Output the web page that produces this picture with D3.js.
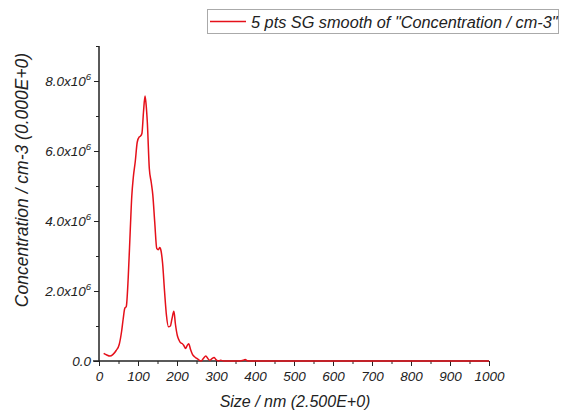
<!DOCTYPE html>
<html lang="en">
<head>
	<meta charset="UTF-8">
	<title>concentration vs size</title>
	<script src="https://cdn.jsdelivr.net/npm/d3@7"></script>
	<style>
		body { margin: 0; background: #fff; }
		text { font-family: "Liberation Sans", Arial, sans-serif; font-style: italic; fill: #222; }
	</style>
</head>
<body>
	<script>

		// size in nm, concentration in units of 1e6 / cm3
		var sizes = [12, 20, 28, 36, 44, 52, 58, 62, 66, 70, 75, 80, 84, 88, 93, 98, 103, 106, 110, 114,
			118, 121, 124, 129, 134, 138, 143, 148, 152, 156, 159, 163, 168, 173, 178, 183, 187, 192, 196,
			201, 205, 209, 213, 217, 222, 226, 230, 235, 240, 245, 250, 255, 262, 268, 274, 279, 284, 289,
			295, 300, 306, 312, 320, 340, 360, 370, 375, 380, 390, 420, 500, 600, 700, 800, 900, 1000];
		var conc = [0.22, 0.17, 0.14, 0.19, 0.30, 0.48, 0.85, 1.20, 1.50, 1.56, 2.40, 3.70, 4.70, 5.25, 5.70, 6.25, 6.40, 6.42, 6.50, 7.10,
			7.57, 7.30, 6.80, 5.50, 5.10, 4.74, 3.95, 3.22, 3.18, 3.24, 3.15, 2.80, 2.00, 1.30, 0.98, 1.00, 1.20, 1.42, 1.05,
			0.72, 0.60, 0.52, 0.50, 0.45, 0.36, 0.44, 0.49, 0.32, 0.18, 0.12, 0.08, 0.04, 0.00, 0.08, 0.14, 0.07, 0.02, 0.06,
			0.10, 0.04, 0.00, 0.02, 0.00, 0.00, 0.00, 0.02, 0.04, 0.01, 0.00, 0.00, 0.00, 0.00, 0.00, 0.00, 0.00, 0.00];

		var xTicks = [0, 100, 200, 300, 400, 500, 600, 700, 800, 900, 1000];
		var xMinor = [50, 150, 250, 350, 450, 550, 650, 750, 850, 950];
		var yTicks = [0, 2, 4, 6, 8];
		var yMinor = [1, 3, 5, 7, 9];
		var legendLabel = '5 pts SG smooth of "Concentration / cm-3"';
		var xTitle = 'Size / nm (2.500E+0)';
		var yTitle = 'Concentration / cm-3 (0.000E+0)';

		var svg = d3.select("body").append("svg").attr("width", 562).attr("height", 412);

		var x = d3.scaleLinear().domain([0, 1000]).range([99, 489]);
		var y = d3.scaleLinear().domain([0, 9]).range([361, 46]);

		// x axis
		var gx = svg.append("g").attr("transform", "translate(0," + y(0) + ")");
		gx.call(d3.axisBottom(x).tickValues(xTicks).tickSize(5).tickFormat(d3.format("d")));
		gx.append("g").call(d3.axisBottom(x).tickValues(xMinor).tickSize(3).tickFormat(""));
		gx.selectAll(".domain").attr("d", "M93,0H489");
		gx.selectAll("text").attr("font-size", 13.5).attr("font-family", null).attr("dy", "0.85em").attr("y", 9);

		// y axis
		var gy = svg.append("g").attr("transform", "translate(" + x(0) + ",0)");
		gy.call(d3.axisLeft(y).tickValues(yTicks).tickSize(5).tickFormat(""));
		gy.append("g").call(d3.axisLeft(y).tickValues(yMinor).tickSize(3).tickFormat(""));
		gy.selectAll(".domain").attr("d", "M0," + y(0) + "V" + y(9));
		svg.selectAll("path.domain, .tick line").attr("stroke", "#222");

		var labels = svg.append("g").selectAll("text").data(yTicks).enter().append("text")
			.attr("x", 91).attr("y", d => y(d) + 5)
			.attr("text-anchor", "end").attr("font-size", 13.5);
		labels.each(function (d) {
			var t = d3.select(this);
			if (d == 0) {
				t.text("0.0");
			} else {
				t.append("tspan").text(d.toFixed(1) + "x10");
				t.append("tspan").attr("font-size", 9.5).attr("dy", -6).text("6");
			}
		});

		// titles
		svg.append("text").attr("x", 295).attr("y", 407).attr("text-anchor", "middle")
			.attr("font-size", 16).text(xTitle);
		svg.append("text").attr("transform", "translate(28,180) rotate(-90)").attr("text-anchor", "middle")
			.attr("font-size", 17.5).text(yTitle);

		// curve
		var line = d3.line().x(d => x(d[0])).y(d => y(d[1])).curve(d3.curveMonotoneX);
		svg.append("path").datum(d3.zip(sizes, conc))
			.attr("d", line).attr("fill", "none").attr("stroke", "#e5101a").attr("stroke-width", 1.5);

		// legend
		var lg = svg.append("g");
		lg.append("rect").attr("x", 207.5).attr("y", 9.5).attr("width", 351).attr("height", 24)
			.attr("fill", "#fff").attr("stroke", "#aaa");
		lg.append("line").attr("x1", 210).attr("x2", 246).attr("y1", 21.5).attr("y2", 21.5)
			.attr("stroke", "#e5101a").attr("stroke-width", 1.5);
		lg.append("text").attr("x", 251).attr("y", 27.5).attr("font-size", 16.3).text(legendLabel);

	</script>
</body>
</html>
